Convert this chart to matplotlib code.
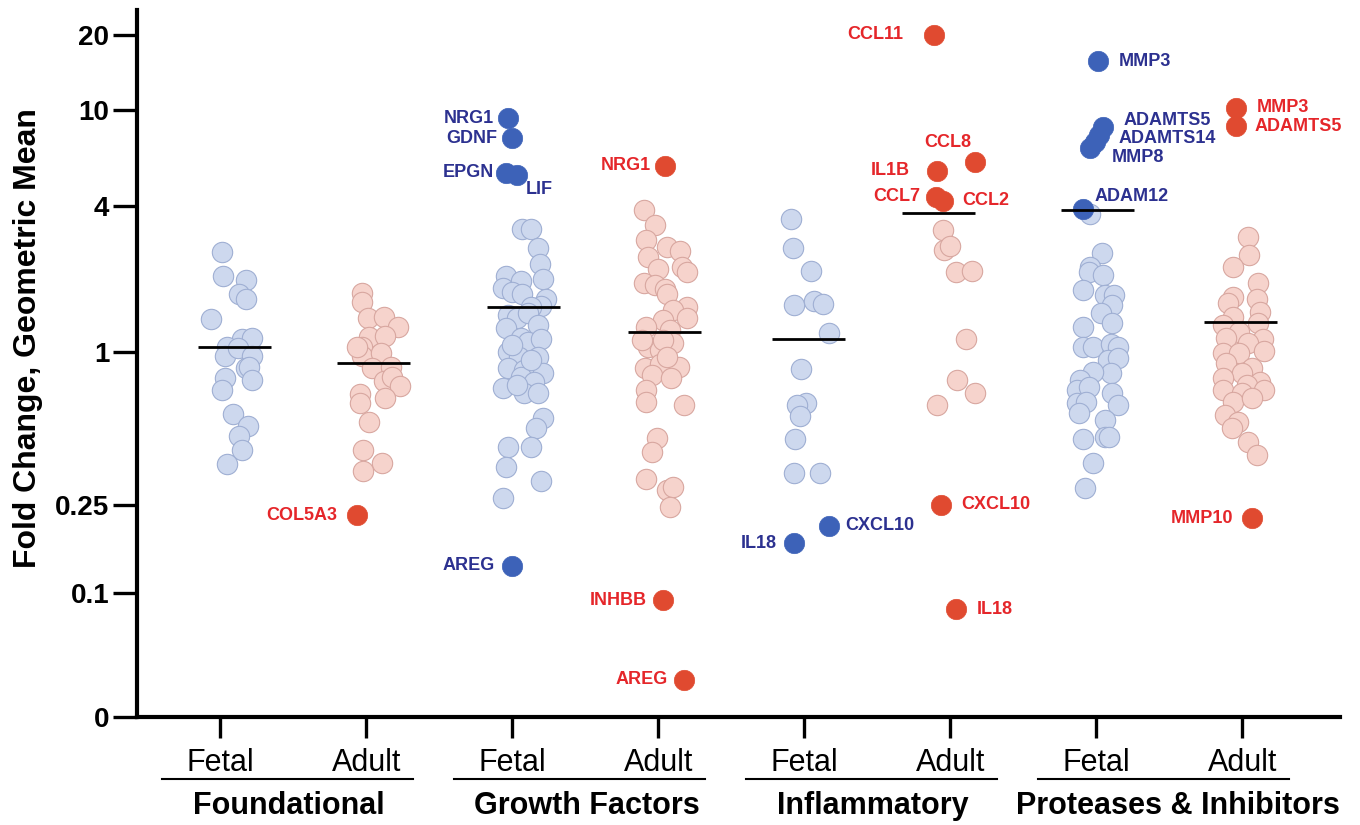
#! /usr/bin/env python

import numpy as np
import matplotlib
matplotlib.use('Agg')
import matplotlib.pyplot as plt


# categories
AGES = ['Fetal', 'Adult', 'Fetal', 'Adult', 'Fetal', 'Adult', 'Fetal', 'Adult']
GROUPS = ['Foundational', 'Growth Factors', 'Inflammatory',
          'Proteases & Inhibitors']

# fold change of every gene, one list per column
FOUND_FETAL = [2.58, 2.06, 1.98, 1.73, 1.65, 1.37, 1.13, 1.14, 1.05, 0.965,
               1.04, 0.965, 0.865, 0.873, 0.79, 0.71, 0.776, 0.57, 0.512,
               0.467, 0.412, 0.362]
FOUND_ADULT = [1.75, 1.61, 1.38, 1.39, 1.27, 1.15, 1.16, 1.05, 0.965, 0.99,
               0.865, 0.873, 0.769, 0.797, 0.735, 0.683, 0.63, 0.659, 0.53,
               0.412, 0.366, 0.34, 1.05]
GROWTH_FETAL = [3.22, 3.22, 2.69, 2.30, 2.00, 2.06, 1.96, 1.84, 1.77, 1.73,
                1.65, 1.55, 1.54, 1.42, 1.38, 1.45, 1.29, 1.26, 1.14, 1.10,
                1.13, 1.00, 0.956, 0.956, 0.865, 0.85, 0.827, 0.797, 0.762,
                0.721, 0.69, 0.69, 0.55, 0.503, 0.423, 0.423, 0.353, 0.311,
                0.266, 1.07, 0.93, 0.74]
GROWTH_ADULT = [3.85, 3.34, 2.90, 2.71, 2.61, 2.46, 2.20, 2.24, 2.14, 1.93,
                1.89, 1.82, 1.73, 1.53, 1.49, 1.38, 1.35, 1.27, 1.23, 1.05,
                1.09, 1.02, 0.865, 0.897, 0.873, 0.812, 0.79, 0.71, 0.636,
                0.619, 0.459, 0.404, 0.316, 0.287, 0.294, 0.245, 1.12, 1.12,
                0.956]
INFLAM_FETAL = [3.54, 2.69, 2.16, 1.56, 1.62, 1.58, 1.20, 0.857, 0.63, 0.619,
                0.56, 0.455, 0.334, 0.334]
INFLAM_ADULT = [3.18, 2.63, 2.73, 2.14, 2.16, 1.13, 0.776, 0.69, 0.619]
PROT_FETAL = [3.71, 2.56, 2.24, 2.14, 2.08, 1.80, 1.72, 1.72, 1.56, 1.45,
              1.32, 1.27, 1.05, 1.05, 1.08, 1.05, 0.93, 0.947, 0.827, 0.834,
              0.776, 0.71, 0.728, 0.69, 0.63, 0.636, 0.619, 0.575, 0.54,
              0.463, 0.463, 0.455, 0.366, 0.292]
PROT_ADULT = [2.98, 2.51, 2.24, 1.93, 1.68, 1.59, 1.65, 1.46, 1.39, 1.29,
              1.32, 1.21, 1.13, 1.14, 1.09, 0.99, 0.99, 1.01, 0.905, 0.865,
              0.827, 0.79, 0.762, 0.74, 0.71, 0.71, 0.69, 0.636, 0.659, 0.565,
              0.53, 0.503, 0.443, 0.393]
COLUMNS = [FOUND_FETAL, FOUND_ADULT, GROWTH_FETAL, GROWTH_ADULT,
           INFLAM_FETAL, INFLAM_ADULT, PROT_FETAL, PROT_ADULT]

# geometric mean of each column
GEO_MEANS = [1.05, 0.905, 1.53, 1.21, 1.13, 3.75, 3.85, 1.33]

# horizontal scatter of the dots inside a column
JITTER = [
    [-0.09, -0.08, 0.08, 0.03, 0.08, -0.16, 0.05, 0.12, -0.05, -0.07, 0.02,
     0.12, 0.08, 0.10, -0.07, -0.09, 0.12, -0.01, 0.09, 0.03, 0.05, -0.05],
    [-0.08, -0.08, -0.04, 0.07, 0.17, -0.03, 0.08, -0.08, -0.08, 0.05, -0.01,
     0.12, 0.07, 0.13, 0.18, -0.09, -0.09, 0.08, -0.03, -0.07, 0.06, -0.07,
     -0.11],
    [-0.01, 0.05, 0.10, 0.11, 0.13, -0.12, -0.02, -0.14, -0.08, -0.01, 0.15,
     0.12, 0.05, -0.11, -0.05, 0.03, 0.10, -0.12, -0.02, 0.03, 0.12, -0.11,
     -0.03, 0.10, -0.11, 0.0, 0.13, -0.02, 0.07, -0.14, 0.0, 0.10, 0.13, 0.08,
     -0.11, 0.05, -0.12, 0.12, -0.14, -0.08, 0.05, -0.05],
    [-0.14, -0.06, -0.12, 0.02, 0.11, -0.11, -0.04, 0.12, 0.16, -0.14, -0.06,
     0.01, 0.02, 0.16, 0.06, 0.16, -0.01, -0.12, 0.04, -0.11, 0.06, -0.03,
     -0.13, -0.03, 0.10, -0.08, 0.05, -0.12, -0.12, 0.14, -0.05, -0.08, -0.12,
     0.02, 0.06, 0.04, -0.01, -0.15, 0.02],
    [-0.12, -0.11, 0.02, -0.10, 0.04, 0.10, 0.14, -0.05, -0.02, -0.08, -0.06,
     -0.09, -0.10, 0.08],
    [0.03, 0.04, 0.08, 0.12, 0.23, 0.19, 0.13, 0.25, -0.01],
    [-0.05, 0.03, -0.05, -0.06, 0.04, -0.10, 0.05, 0.11, 0.10, 0.02, 0.10,
     -0.10, -0.10, -0.03, 0.09, 0.14, 0.07, 0.14, 0.09, -0.03, -0.12, -0.14,
     -0.06, 0.10, -0.14, -0.08, 0.14, -0.13, 0.05, 0.05, 0.08, -0.10, -0.03,
     -0.09],
    [0.05, 0.06, -0.05, 0.12, -0.05, -0.09, 0.11, 0.13, -0.05, -0.12, 0.12,
     -0.01, 0.15, -0.10, 0.05, -0.12, -0.01, 0.16, -0.10, 0.08, 0.01, -0.12,
     0.13, 0.04, -0.12, 0.16, 0.01, -0.05, 0.08, -0.11, -0.02, -0.06, 0.05,
     0.11],
]
COL_SHIFT = [0.10, 0.05, 0.08, 0.04, 0.03, -0.08, 0.01, -0.01]

# significant genes
HI_NAMES = ['COL5A3', 'NRG1', 'GDNF', 'EPGN', 'LIF', 'AREG', 'NRG1', 'INHBB',
            'AREG', 'IL18', 'CXCL10', 'CCL11', 'CCL8', 'IL1B', 'CCL7', 'CCL2',
            'CXCL10', 'IL18', 'MMP3', 'ADAMTS5', '', 'ADAMTS14', 'MMP8',
            'ADAM12', 'MMP3', 'ADAMTS5', 'MMP10']
HI_COLUMN = [1, 2, 2, 2, 2, 2, 3, 3, 3, 4, 4, 5, 5, 5, 5, 5, 5, 5,
             6, 6, 6, 6, 6, 6, 7, 7, 7]
HI_VALUES = [0.225, 9.26, 7.65, 5.48, 5.38, 0.1325, 5.86, 0.0934, 0.043,
             0.168, 0.201, 20.0, 6.09, 5.59, 4.36, 4.20, 0.25, 0.0856,
             15.7, 8.5, 7.9, 7.4, 6.96, 3.89, 10.2, 8.58, 0.218]
HI_JITTER = [-0.11, -0.11, -0.08, -0.12, -0.05, -0.08, 0.01, -0.01, 0.14,
             -0.10, 0.14, -0.03, 0.25, -0.01, -0.02, 0.03, 0.02, 0.12,
             0.0, 0.04, 0.01, -0.02, -0.05, -0.10, -0.03, -0.03, 0.08]
# label placement, pixels from the dot
HI_DX = [-20, -14, -15, -12, 9, -17, -15, -16, -17, -17, 16, -31, -4, -27,
         -15, 19, 20, 21, 21, 20, 0, 24, 21, 12, 20, 18, -19]
HI_DY = [0, 0, 0, 0, -15, 0, 0, 0, 0, 0, 0, 0, 19, 0, 0, 0, 0, 0,
         0, 7, 0, 3, -10, 12, 0, 0, 0]

# y axis: ticks and where they sit (pixels down from the top)
Y_TICKS = [0.03, 0.1, 0.25, 1, 4, 10, 20]
Y_TICK_LABELS = ['0', '0.1', '0.25', '1', '4', '10', '20']
Y_ANCHOR_VAL = [0.001, 0.03, 0.1, 0.25, 1, 4, 10, 20, 100]
Y_ANCHOR_PIX = [1041, 717, 593, 505, 352, 206, 110, 35, -139]

# group captions under the axis
GROUP_LABEL_X = [0.47, 2.51, 4.47, 6.56]

LIGHT = ['#cdd8ee', '#f6d3cc']
EDGE = ['#9fafd3', '#d8a7a0']
DARK = ['#3d62b8', '#e04a30']
TEXT = ['#2c3190', '#e5262a']


def fwd(v):
    """
    fwd:
    Args: v [array]
    Returns: position [array]
    Piecewise log scale of the original axis.
    """
    v = np.clip(np.asarray(v, dtype=float), 1e-4, None)
    return -np.interp(np.log10(v), np.log10(Y_ANCHOR_VAL), Y_ANCHOR_PIX)


def inv(p):
    """
    inv:
    Args: p [array]
    Returns: value [array]
    """
    p = np.asarray(p, dtype=float)
    return 10 ** np.interp(p, -np.array(Y_ANCHOR_PIX, dtype=float),
                           np.log10(Y_ANCHOR_VAL))


def draw(ax):
    """
    draw:
    Args: ax
    Returns: -
    Dots, mean lines and the labelled genes.
    """
    for i, vals in enumerate(COLUMNS):
        side = i % 2
        x = i + COL_SHIFT[i] + np.array(JITTER[i])
        ax.scatter(x, vals, s=215, color=LIGHT[side], edgecolor=EDGE[side],
                   linewidth=0.8, zorder=2)

    for k, name in enumerate(HI_NAMES):
        c = HI_COLUMN[k]
        side = c % 2
        x = c + COL_SHIFT[c] + HI_JITTER[k]
        ax.scatter([x], [HI_VALUES[k]], s=215, color=DARK[side],
                   edgecolor=DARK[side], linewidth=0.5, zorder=3)
        if name:
            ha = 'right' if HI_DX[k] < 0 else 'left'
            ax.annotate(name, xy=(x, HI_VALUES[k]),
                        xytext=(HI_DX[k], HI_DY[k]),
                        textcoords='offset pixels', ha=ha, va='center',
                        fontsize=13, fontweight='bold',
                        color=TEXT[side], zorder=5)

    for i, m in enumerate(GEO_MEANS):
        c = i + COL_SHIFT[i]
        ax.plot([c - 0.25, c + 0.25], [m, m], color='black', lw=2,
                zorder=4, solid_capstyle='butt')


def style_axes(ax):
    """
    style_axes:
    Args: ax
    Returns: -
    """
    ax.set_yscale('function', functions=(fwd, inv))
    ax.set_ylim(0.03, 25.2)
    ax.set_xlim(-0.57, 7.67)
    ax.set_yticks(Y_TICKS)
    ax.set_yticklabels(Y_TICK_LABELS)
    ax.yaxis.set_minor_locator(plt.NullLocator())
    ax.set_xticks(range(len(AGES)))
    ax.set_xticklabels(AGES)
    for lab in ax.get_yticklabels():
        lab.set_fontweight('bold')
    ax.tick_params(axis='y', length=17, width=2.4, labelsize=20, pad=3)
    ax.tick_params(axis='x', length=15, width=2.4, labelsize=22, pad=7)
    for s in ['top', 'right']:
        ax.spines[s].set_visible(False)
    for s in ['left', 'bottom']:
        ax.spines[s].set_linewidth(3)

    tr = ax.get_xaxis_transform()
    for g, name in enumerate(GROUPS):
        left = 2 * g - 0.40
        right = 2 * g + 1.32
        ax.plot([left, right], [-0.087, -0.087], color='black', lw=1.5,
                transform=tr, clip_on=False)
        ax.text(GROUP_LABEL_X[g], -0.126, name, transform=tr,
                ha='center', va='center', fontsize=22, fontweight='bold')


def main():
    """
    main:
    Args: -
    Returns: -
    """
    plt.rcParams['font.family'] = ['Liberation Sans', 'DejaVu Sans']
    fig = plt.figure(figsize=(13.6, 8.25), dpi=100)
    ax = fig.add_axes([0.1007, 0.1309, 0.8846, 0.857])
    style_axes(ax)
    draw(ax)
    fig.text(28 / 1360, 1 - 338 / 825, 'Fold Change, Geometric Mean',
             rotation=90, ha='center', va='center', fontsize=23,
             fontweight='bold')
    fig.savefig('out.png', dpi=100)


if __name__ == "__main__":
    main()
